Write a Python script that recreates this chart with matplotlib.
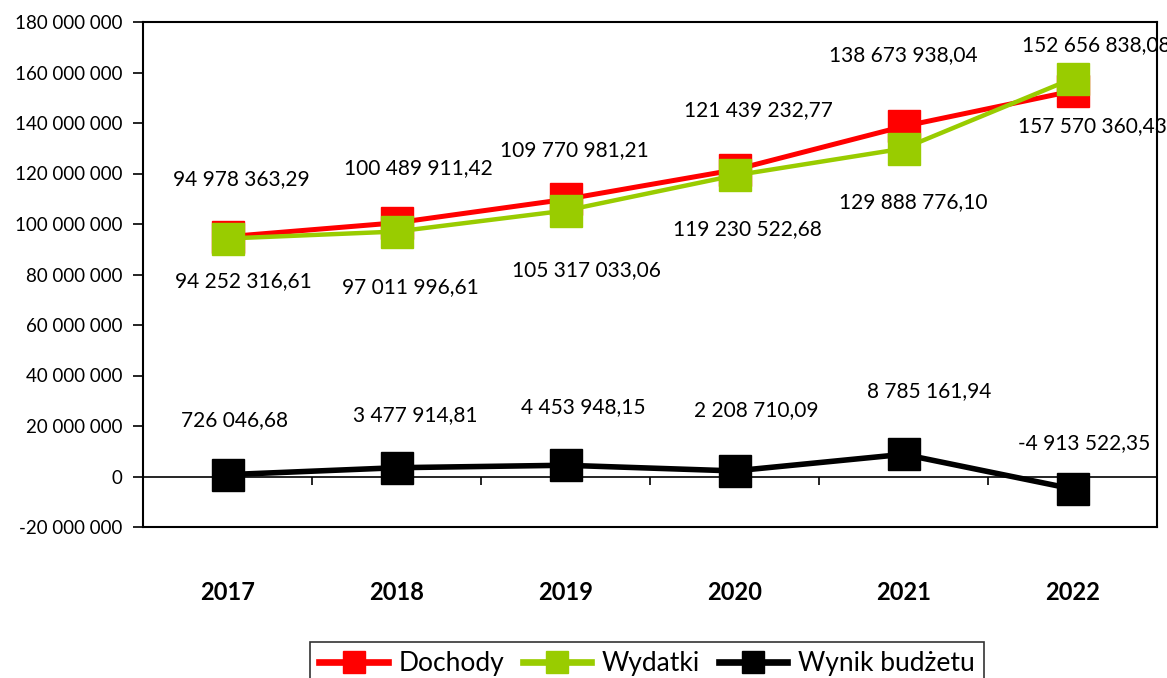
import numpy as np
import matplotlib
matplotlib.use("Agg")
import matplotlib.pyplot as plt
from matplotlib.ticker import FuncFormatter

plt.rcParams['font.family'] = ['Lato', 'DejaVu Sans']

# data
years = ['2017', '2018', '2019', '2020', '2021', '2022']
dochody = [94978363.29, 100489911.42, 109770981.21, 121439232.77, 138673938.04, 152656838.08]
wydatki = [94252316.61, 97011996.61, 105317033.06, 119230522.68, 129888776.10, 157570360.43]
wynik = [726046.68, 3477914.81, 4453948.15, 2208710.09, 8785161.94, -4913522.35]

# label offsets in pixels (dx, dy), as placed in the original
off_doch = [(14, 58), (22, 55), (9, 49), (24, 60), (0, 71), (24, 46)]
off_wyd = [(16, -43), (14, -56), (21, -60), (13, -54), (10, -54), (20, -47)]
off_wyn = [(7, 55), (19, 53), (18, 58), (22, 61), (26, 63), (12, 46)]


def pl_num(v, decimals=2):
    s = f"{abs(v):,.{decimals}f}".replace(",", " ").replace(".", ",")
    return ("-" if v < 0 else "") + s


fig = plt.figure(figsize=(11.67, 6.78), dpi=100)
ax = fig.add_axes([143 / 1167, 1 - 527 / 678, 1014 / 1167, 505 / 678])

x = np.arange(len(years))
series = [
    (dochody, '#FF0000', 'Dochody', off_doch, 3.6),
    (wydatki, '#99CC00', 'Wydatki', off_wyd, 3.2),
    (wynik, '#000000', 'Wynik budżetu', off_wyn, 4.0),
]
for vals, col, name, offs, lw in series:
    ax.plot(x, vals, color=col, lw=lw, marker='s', markersize=23.5,
            markerfacecolor=col, markeredgecolor=col, label=name)
    for xi, v, (dx, dy) in zip(x, vals, offs):
        ax.annotate(pl_num(v), (xi, v), xytext=(dx, dy), textcoords='offset pixels',
                    ha='center', va='center', fontsize=15, color='black',
                    annotation_clip=False)

ax.set_xlim(-0.5, len(years) - 0.5)
ax.set_ylim(-20e6, 180e6)
ax.set_yticks(np.arange(-20e6, 180e6 + 1, 20e6))
ax.yaxis.set_major_formatter(FuncFormatter(lambda v, p: pl_num(v, 0)))
ax.tick_params(axis='y', direction='out', length=7, width=1.2, pad=8, labelsize=13.5)

ax.set_xticks(x)
ax.set_xticklabels(years, fontweight='bold', fontsize=17)
ax.tick_params(axis='x', length=0, pad=39)

for sp in ax.spines.values():
    sp.set_linewidth(1.5)
    sp.set_color('black')

# zero line with category separators
sec = ax.secondary_xaxis(0.1)
sec.set_xticks(np.arange(-0.5, len(years), 1.0))
sec.set_xticklabels([])
sec.tick_params(direction='out', length=6, width=1.2)
sec.spines['bottom'].set_linewidth(1.2)

leg = fig.legend(loc='upper center', bbox_to_anchor=(647 / 1167, 1 - 629 / 678),
                 ncol=3, fontsize=19, frameon=True, fancybox=False, edgecolor='black',
                 handlelength=2.6, handletextpad=0.4, columnspacing=0.7,
                 markerscale=0.7, borderpad=0.35)
leg.get_frame().set_linewidth(1.2)
for h in leg.legend_handles:
    h.set_linewidth(4.8)

fig.savefig('out.png', dpi=100)
